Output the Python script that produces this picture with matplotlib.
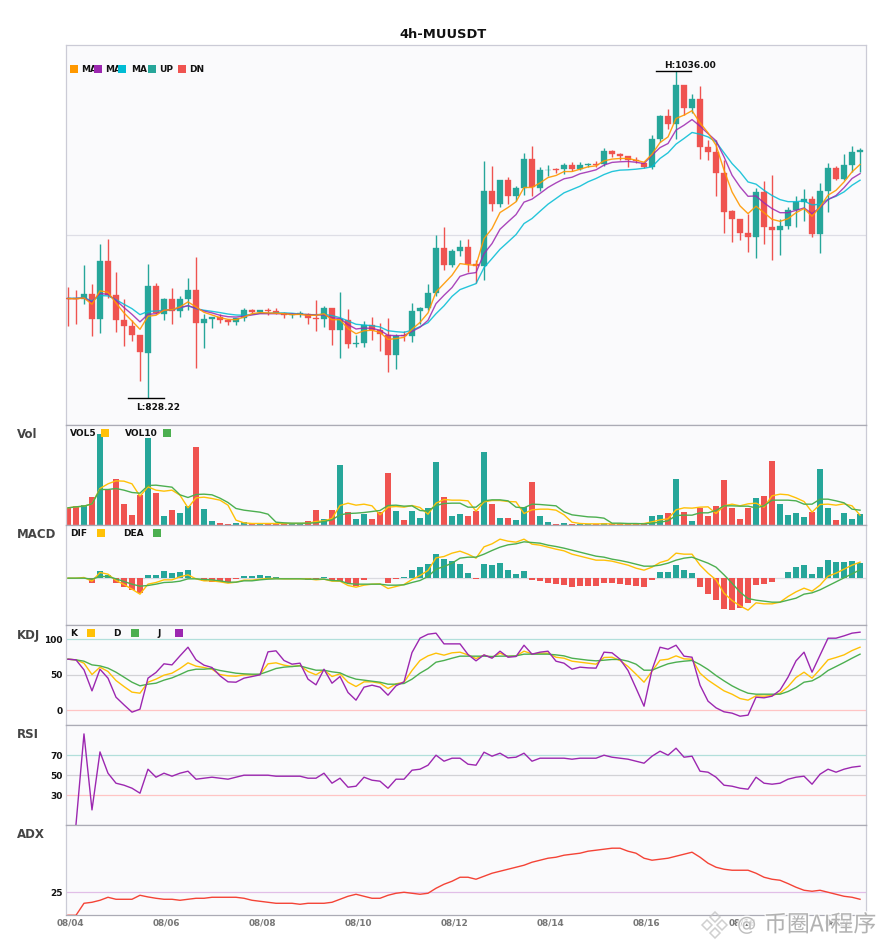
import numpy as np
import matplotlib
matplotlib.use("Agg")
import matplotlib.pyplot as plt
import matplotlib.patheffects as pe
from matplotlib.lines import Line2D
from matplotlib.patches import Rectangle

open_prices = [892.2, 891.8, 891.2, 894.3, 878.4, 915.3, 893.7, 877.8, 874.0, 868.3,
               856.9, 899.4, 881.6, 891.2, 883.5, 891.2, 896.9, 875.9, 878.4, 879.7,
               877.8, 876.5, 879.1, 884.2, 882.9, 884.2, 883.5, 882.3, 881.2, 881.6,
               882.0, 879.1, 878.4, 885.4, 871.5, 877.8, 862.8, 863.2, 874.6, 871.5,
               868.3, 855.6, 868.5, 867.6, 883.5, 885.4, 895.0, 923.5, 912.7, 921.6,
               924.2, 913.4, 912.1, 959.7, 951.5, 966.7, 956.6, 961.6, 980.1, 961.6,
               973.1, 973.9, 973.7, 976.3, 973.7, 976.5, 976.9, 976.9, 985.2, 983.3,
               982.0, 979.4, 977.7, 974.9, 992.7, 1007.4, 1002.3, 1027.1, 1012.4, 1018.2,
               987.7, 984.5, 971.1, 947.0, 941.9, 933.0, 930.5, 959.1, 936.8, 934.9,
               937.5, 947.6, 952.7, 954.6, 932.4, 959.7, 974.3, 967.3, 976.2, 984.5]
high_prices = [899.0, 897.3, 912.8, 900.7, 926.5, 929.3, 908.3, 891.6, 877.8, 868.3,
               913.4, 901.3, 891.8, 898.1, 893.1, 904.5, 917.8, 881.6, 879.9, 882.0,
               878.9, 879.5, 885.4, 884.8, 884.6, 885.4, 885.4, 882.9, 882.5, 883.5,
               882.3, 890.5, 886.7, 885.4, 895.6, 884.8, 868.3, 877.2, 879.7, 875.9,
               879.1, 868.9, 870.8, 888.6, 886.1, 900.7, 931.8, 936.9, 922.9, 928.6,
               929.2, 915.9, 978.8, 975.6, 966.7, 968.6, 962.9, 983.9, 988.3, 975.0,
               976.3, 974.4, 977.5, 978.2, 978.2, 977.5, 978.8, 987.1, 985.8, 983.9,
               982.0, 981.3, 978.3, 995.3, 1008.0, 1012.2, 1036.0, 1027.1, 1021.3, 1026.4,
               992.1, 992.1, 979.4, 947.6, 941.9, 945.5, 961.6, 965.9, 969.9, 941.9,
               949.5, 956.5, 961.0, 956.5, 964.8, 977.5, 975.6, 983.2, 988.3, 987.0]
low_prices = [874.0, 875.3, 888.0, 867.6, 869.8, 891.8, 870.2, 861.3, 864.5, 839.1,
              828.22, 882.0, 877.8, 875.3, 879.7, 884.2, 847.3, 860.0, 872.7, 875.9,
              874.6, 874.6, 877.4, 882.5, 882.5, 881.2, 881.6, 879.1, 879.1, 879.7,
              875.3, 870.8, 873.4, 861.9, 853.7, 860.0, 860.7, 860.7, 865.1, 858.1,
              844.8, 846.7, 864.5, 863.8, 875.7, 884.2, 893.0, 909.5, 911.4, 918.4,
              908.3, 901.3, 903.2, 947.0, 949.6, 951.5, 953.4, 957.2, 956.6, 959.7,
              969.3, 971.2, 970.5, 972.4, 973.1, 975.0, 975.0, 975.6, 981.3, 979.4,
              975.0, 977.5, 974.7, 973.9, 990.8, 999.1, 992.7, 1008.0, 1009.1, 980.0,
              979.4, 956.5, 933.0, 927.3, 928.6, 921.0, 917.1, 926.0, 915.9, 919.0,
              935.6, 936.8, 940.6, 930.5, 920.3, 946.4, 966.7, 966.7, 971.8, 971.8]
close_prices = [891.6, 891.2, 894.3, 878.4, 915.3, 893.7, 877.8, 874.0, 868.3, 857.5,
                899.4, 882.3, 891.2, 883.5, 891.2, 896.9, 875.9, 878.4, 879.7, 877.8,
                876.5, 879.1, 884.2, 882.9, 884.2, 883.5, 882.3, 881.2, 882.0, 882.3,
                879.1, 878.7, 885.4, 871.5, 878.7, 862.6, 863.2, 874.6, 871.5, 868.9,
                855.6, 867.6, 867.6, 883.5, 885.4, 895.0, 923.5, 912.7, 921.6, 924.2,
                913.4, 912.5, 959.7, 951.5, 966.7, 956.6, 961.6, 980.1, 962.3, 973.1,
                973.5, 973.3, 976.3, 973.7, 976.3, 976.9, 976.5, 985.2, 983.3, 982.0,
                979.4, 978.8, 974.9, 992.7, 1007.4, 1002.3, 1027.1, 1012.4, 1018.2, 987.7,
                984.5, 971.1, 946.4, 941.9, 933.0, 930.5, 959.1, 936.8, 934.9, 937.5,
                947.6, 952.7, 954.6, 932.4, 959.7, 974.3, 967.3, 976.2, 984.5, 985.8]

ma_fast = [891.6, 891.4, 892.0, 888.0, 896.5, 895.6, 888.8, 882.5, 877.4, 872.1,
           880.4, 881.0, 884.2, 884.6, 886.3, 889.5, 886.3, 882.9, 881.2, 879.5,
           878.4, 878.2, 879.9, 882.0, 882.7,
           882.5, 882.3, 882.0, 881.4, 881.6, 881.0, 881.0, 882.0, 878.2, 878.2,
           872.5, 869.3, 871.2, 871.5, 870.2, 865.7, 866.2, 867.0, 872.1, 876.5,
           882.5, 895.8, 901.1, 906.4,
           913.8, 913.1, 912.7, 929.7, 936.0, 946.2, 949.4, 953.0, 962.1, 962.1,
           965.0, 968.4, 969.7, 972.2, 972.2, 973.7, 975.2, 975.8, 979.0, 980.1,
           980.5, 980.5,
           979.4, 978.1, 983.2, 990.6, 994.2, 1005.9, 1008.0, 1010.8, 1003.1, 996.8,
           988.9, 973.1, 959.3, 950.4, 945.5, 950.2, 946.1, 941.9, 940.6, 942.3,
           946.1, 948.7, 943.8, 949.8, 957.2, 960.3, 965.6, 972.0, 976.7]
ma_mid = [891.6, 891.6, 892.0, 889.5, 894.8, 894.3, 890.5, 885.9, 881.6, 876.8,
          881.6, 882.0, 884.2, 884.6, 885.9, 887.1, 885.4, 883.7, 882.5, 881.0,
          880.1, 879.9, 880.4, 881.2, 882.0,
          882.0, 882.0, 882.0, 881.8, 881.6, 881.4, 881.2, 881.2, 879.5, 878.9,
          875.1, 872.3, 872.9, 872.7, 871.5, 868.3, 868.1, 868.1, 870.8, 873.4,
          877.8, 888.4, 893.7, 898.6,
          905.7, 907.4, 908.1, 920.1, 926.5, 935.6, 940.3, 944.9, 952.8, 954.7,
          958.3, 962.1, 965.0, 967.6, 968.6, 970.8, 972.0, 973.3, 976.3, 978.0,
          978.4, 978.6,
          978.1, 977.3, 982.6, 987.4, 990.0, 998.5, 1001.6, 1005.2, 1001.0, 996.3,
          991.7, 981.5, 969.9, 962.5, 956.5, 956.7, 952.3, 948.7, 946.1, 946.1,
          947.6, 949.1, 945.5, 949.3, 954.4, 957.0, 962.0, 967.8, 970.9]
ma_slow = [891.8, 891.8, 892.2, 890.1, 893.5, 893.3, 890.9, 888.0, 885.2, 881.4,
           883.5, 883.7, 884.2, 884.6, 885.7, 887.1, 885.2, 884.2, 883.5, 882.7,
           881.8, 881.2, 881.0, 881.6, 882.3,
           882.3, 882.5, 882.5, 882.3, 881.8, 881.4, 881.4, 881.6, 880.8, 879.5,
           877.4, 875.3, 874.8, 874.4, 873.6, 871.2, 870.6, 870.2, 871.5, 873.8,
           876.3, 882.0, 887.0, 893.0,
           897.3, 899.2, 901.1, 911.2, 917.0, 922.9, 927.5, 932.2, 939.2, 942.4,
           947.0, 951.5, 955.1, 958.7, 960.8, 962.9, 965.7, 967.8, 970.3, 972.2,
           973.1, 973.3,
           973.7, 974.3, 975.2, 980.5, 984.1, 989.6, 993.2, 997.0, 995.9, 994.2,
           991.0, 984.1, 977.3, 972.0, 965.6, 964.2, 960.3, 957.0, 954.4, 953.1,
           953.1, 953.6, 951.0, 951.5, 954.6, 956.5, 959.3, 963.5, 966.7]

volume = [50, 56, 58, 83, 272, 105, 137, 62, 29, 89,
          260, 96, 25, 44, 35, 56, 233, 47, 11, 5,
          2, 5, 7, 3, 2, 2, 2, 2, 2, 2,
          11, 44, 17, 44, 179, 38, 17, 32, 17, 38,
          155, 41, 14, 41, 20, 50, 188, 83, 26, 32,
          26, 41, 218, 62, 20, 20, 14, 53, 128, 26,
          8, 2, 5, 2, 2, 1, 1, 5, 1, 1,
          1, 1, 2, 26, 29, 35, 137, 38, 11, 50,
          26, 56, 134, 50, 17, 50, 80, 86, 191, 62,
          29, 35, 23, 38, 167, 50, 14, 35, 17, 32]
vol5 = [50, 53, 55, 62, 108, 122, 131, 130, 122, 85,
        113, 103, 100, 103, 88, 50, 80, 82, 78, 73,
        58, 13, 5, 3, 3, 3, 3, 3, 3, 3,
        4, 9, 11, 18, 57, 64, 58, 61, 56, 29,
        52, 54, 52, 57, 51, 31, 64, 75, 73, 73,
        71, 40, 68, 72, 72, 69, 68, 33, 44, 46,
        46, 43, 29, 7, 3, 2, 2, 2, 2, 2,
        2, 2, 3, 8, 14, 17, 44, 50, 49, 52,
        53, 33, 56, 61, 56, 62, 64, 52, 86, 91,
        89, 80, 69, 37, 60, 61, 58, 62, 56, 28]
vol10 = [50, 53, 55, 62, 105, 105, 108, 103, 96, 94,
         117, 118, 115, 112, 89, 81, 90, 91, 89, 79,
         66, 48, 43, 40, 37, 31, 7, 5, 4, 4,
         4, 5, 9, 14, 29, 33, 34, 36, 39, 42,
         57, 58, 55, 56, 42, 40, 57, 63, 64, 64,
         52, 52, 71, 74, 74, 71, 52, 50, 61, 60,
         58, 56, 38, 29, 26, 23, 22, 19, 4, 4,
         3, 3, 2, 4, 7, 11, 27, 28, 28, 35,
         35, 42, 56, 56, 55, 55, 50, 56, 73, 73,
         73, 71, 61, 61, 76, 76, 71, 65, 46, 43]

macd_hist = [0, 0, 0.2, -1.4, 2.2, 1.0, -1.4, -2.6, -3.4, -4.5,
             1.0, 1.0, 2.2, 1.6, 2.0, 2.6, 0, -0.9, -1.0, -1.1,
             -1.0, -0.3, 0.7, 0.7, 1.0, 0.7, 0.4, 0.1, 0, 0,
             -0.4, -0.5, 0.4, -0.7, -0.8, -1.5, -2.2, -0.5, 0, 0,
             -1.4, -0.2, 0.4, 2.5, 3.4, 4.3, 7.3, 5.8, 5.2, 4.3,
             1.6, -0.2, 4.3, 4.0, 4.6, 2.5, 1.3, 2.2, -0.5, -0.8,
             -1.4, -1.7, -2.0, -2.6, -2.3, -2.3, -2.3, -1.4, -1.4, -1.7,
             -2.0, -2.3, -2.6, -0.5, 1.9, 1.9, 4.0, 2.5, 1.6, -2.6,
             -4.7, -6.5, -9.2, -9.5, -8.9, -7.4, -2.0, -1.7, -1.1, 0,
             1.9, 3.4, 4.0, 1.3, 3.4, 5.5, 4.9, 4.9, 5.2, 4.6]
macd_dif = [0, 0, 0.2, -0.9, 1.7, 1.2, -0.7, -1.9, -3.3, -4.8,
            -1.8, -1.3, -0.5, -0.5, 0.4, 1.0, -0.2, -0.8, -0.8, -1.1,
            -1.5, -1.2, -0.6, -0.6, -0.3, -0.1, -0.1, -0.2, -0.2, -0.2,
            -0.2, -0.5, -0.3, -0.9, -0.9, -2.2, -2.7, -2.1, -1.8, -1.7,
            -3.1, -2.5, -1.9, -0.4, 0.8, 2.3, 6.1,
            6.5, 7.5, 8.1, 7.2, 6.0, 9.4, 10.3, 11.7, 11.1, 10.8,
            11.7, 10.2, 9.9, 9.3, 8.7, 8.2, 7.2, 6.6, 6.0, 5.4,
            5.4, 5.1, 4.5, 3.9, 3.0, 2.4, 3.3, 4.7, 5.4, 7.5,
            7.2, 7.2, 3.9, 1.5, -0.5, -4.5, -6.7, -8.3, -9.6, -7.4,
            -7.7, -7.7, -7.2, -5.5, -4.1, -3.0, -3.9, -2.1, 0.6, 1.5,
            2.7, 3.9, 4.8]
macd_dea = [0, 0, 0, -0.3, 0.5, 0.5, -0.2, -1.0, -1.8, -2.4,
            -2.2, -1.8, -1.3, -1.2, -0.9, -0.2, -0.2, -0.4, -0.5, -0.8,
            -1.2, -1.2, -0.8, -0.8, -0.5, -0.3, -0.2, -0.2, -0.2, -0.2,
            -0.3, -0.3, -0.3, -0.7, -0.8, -1.6, -1.8, -1.8, -1.8, -1.8,
            -2.1, -2.1, -2.0, -1.3, -0.7, 0.5, 2.7,
            3.5, 4.5, 6.0, 6.3, 6.3, 7.2, 8.3, 9.3, 10.0, 10.3,
            10.9, 10.7, 10.5, 9.9, 9.5, 9.0, 8.4, 7.8, 7.2, 6.6,
            6.3, 5.7, 5.3, 4.8, 4.2, 3.6, 3.6, 3.9, 4.5, 5.4,
            6.0, 6.3, 5.4, 4.5, 3.3, 1.0, -1.5, -4.2, -6.1, -6.6,
            -6.9, -7.2, -7.2, -6.6, -6.0, -4.8, -4.4, -3.5, -2.3, -1.1,
            0.1, 1.3, 2.5]

kdj_k = [71.8, 70.9, 66.2, 50.2, 60.6, 54.5, 41.8, 33.3, 25.4, 23.9,
         39.4, 43.7, 49.3, 52.1, 58.7, 66.7, 62.0, 60.1, 57.7, 50.2,
         48.4, 47.9, 49.8, 49.8, 50.2, 65.3, 66.7, 63.4, 61.5, 62.9,
         54.5, 49.8, 56.8, 47.4, 51.2, 39.4, 33.3, 39.9, 39.9, 38.0,
         30.5, 37.1, 39.4, 55.9, 70.0, 76.5, 80.3,
         77.5, 80.8, 81.7, 77.9, 72.8, 77.5, 74.2, 80.3, 75.6, 76.1,
         83.1, 79.3, 80.3, 80.3, 74.6, 73.2, 69.0, 67.6, 66.2, 64.8,
         74.2, 74.6, 70.0, 61.5, 50.7, 39.4, 54.9, 70.4, 71.8, 76.5,
         72.3, 71.8, 52.1, 42.3, 34.7, 27.2, 22.5, 16.4, 14.1, 20.2,
         19.7, 20.7, 23.9, 33.3, 46.0, 53.5, 45.1, 57.7, 70.9, 74.2,
         77.9, 84.0, 88.7]
kdj_d = [71.8, 70.9, 69.0, 63.8, 62.4, 59.2, 53.5, 46.5, 39.4, 34.3,
         36.6, 38.0, 42.3, 45.5, 50.2, 55.4, 57.7, 57.7, 58.7, 55.9,
         54.0, 52.1, 51.2, 50.7, 50.7, 54.5, 58.7, 60.6, 61.5, 62.4,
         59.2, 56.3, 56.3, 54.0, 52.6, 47.4, 43.7, 42.3, 40.8, 39.4,
         36.6, 36.6, 37.6, 43.7, 52.1, 58.7, 67.6,
         70.0, 73.2, 76.1, 76.1, 76.1, 76.1, 75.6, 76.1, 76.1, 76.5,
         78.9, 78.9, 78.9, 78.9, 77.9, 76.5, 73.2, 71.8, 70.4, 69.5,
         70.4, 71.4, 71.4, 69.0, 64.8, 56.3, 56.3, 61.0, 65.3, 67.6,
         69.0, 70.0, 64.3, 57.3, 48.8, 41.3, 34.3, 28.6, 23.9, 22.5,
         22.5, 22.5, 22.5, 26.3, 31.9, 39.4, 41.3, 47.4, 55.9, 61.5,
         67.2, 73.2, 78.9]
kdj_j = [71.8, 70.9, 56.8, 27.2, 57.7, 45.1, 18.3, 7.5, -2.8, 1.4,
         45.1, 53.1, 65.3, 63.8, 76.5, 88.7, 70.9, 63.4, 60.1, 48.4,
         39.9, 39.4, 45.1, 47.4, 49.8, 82.2, 83.6, 70.0, 64.8, 66.2,
         43.7, 35.7, 57.7, 38.0, 47.4, 24.9, 14.1, 32.4, 35.2, 32.4,
         21.1, 34.3, 39.9, 81.2, 101.4, 107.0, 108.5,
         93.4, 93.4, 93.4, 78.4, 69.5, 77.9, 73.2, 83.1, 74.6, 75.6,
         91.5, 78.9, 81.7, 83.1, 69.0, 66.2, 57.7, 60.6, 59.6, 59.2,
         81.7, 80.8, 71.8, 55.9, 31.0, 5.6, 56.8, 88.7, 85.9, 91.5,
         76.1, 74.6, 35.2, 12.7, 3.3, -2.3, -4.2, -8.5, -7.0, 18.3,
         17.4, 19.7, 28.2, 46.5, 69.5, 81.7, 53.5, 77.5, 101.4, 101.4,
         104.7, 108.5, 109.9]

rsi = [np.nan, 0.7, 91.3, 15.3, 73.3, 52, 42, 40, 37, 32,
       56, 48, 52, 49, 52, 54, 46, 47, 48, 47,
       46, 48, 50, 50, 50, 50, 49, 49, 49, 49,
       47, 47, 52, 42, 47, 38, 39, 48, 45, 44,
       37, 46, 46, 55, 56, 60, 70, 64, 67, 67,
       61, 60, 73, 69, 72, 67.3, 68, 72, 64, 67,
       67, 67, 67, 66, 67, 67, 67, 70, 68, 67,
       66, 64, 62, 69, 74, 70, 77, 68, 69, 54,
       53, 48, 40, 39, 37, 36, 48, 42, 41, 42,
       46, 48, 49, 41, 51, 56, 53, 56, 58, 59]

adx = [14.65, 14.65, 20.05, 20.5, 21.4, 22.75, 21.85, 21.85, 21.85, 23.65,
       22.9, 22.3, 21.85, 21.85, 21.4, 21.85, 22.3, 22.3, 22.75, 22.75,
       22.75, 22.75, 22.3, 21.4, 20.95, 20.5, 20.05, 20.05, 20.05, 19.6,
       20.05, 20.05, 20.05, 20.5, 21.85, 23.2, 24.1, 23.2, 22.3, 22.3,
       23.65, 24.55, 25.0, 24.55, 24.1, 24.55, 26.8, 28.6, 29.95, 31.75,
       31.75, 30.85, 32.2, 33.55, 34.45, 35.35, 36.25, 37.15, 38.5, 39.4,
       40.3, 40.75, 41.65, 42.1, 42.55, 43.45, 43.9, 44.35, 44.8, 44.8,
       43.45, 42.55, 40.3, 39.4, 39.85, 40.3, 41.2, 42.1, 43.0, 40.75,
       38.05, 36.25, 35.35, 34.9, 34.9, 34.9, 33.55, 31.75, 30.85, 30.4,
       28.9, 27.25, 25.9, 25.45, 25.9, 25.0, 24.1, 23.2, 22.75, 21.85]

date_labels = ["08/04", "08/06", "08/08", "08/10", "08/12", "08/14", "08/16", "08/18", "08/20"]
date_ticks = [0, 12, 24, 36, 48, 60, 72, 84, 96]

# - - - - style - - -
UP = "#26A69A"
DOWN = "#EF5350"
ORANGE = "#FF9800"
PURPLE = "#9C27B0"
CYAN = "#00BCD4"
YELLOW = "#FFC107"
GREEN = "#4CAF50"
BG = "#FAFAFC"
SEP = "#ABABB5"
SIDE = "#CBCBD6"
W, H = 885, 950
LEFT, RIGHT = 65.5, 865.8


def make_axes(fig, top, bottom):
    # positions are given in picture pixels, y from the top
    ax = fig.add_axes([LEFT / W, 1 - bottom / H, (RIGHT - LEFT) / W, (bottom - top) / H])
    ax.set_facecolor(BG)
    ax.set_xlim(-0.31, 99.72)
    ax.set_xticks([])
    ax.tick_params(axis="y", length=0, pad=2, labelsize=6.5, labelcolor="#111111")
    for side in ("left", "right"):
        ax.spines[side].set_color(SIDE)
        ax.spines[side].set_linewidth(0.9)
    for side in ("top", "bottom"):
        ax.spines[side].set_color(SEP)
        ax.spines[side].set_linewidth(0.9)
    return ax


def set_levels(ax, levels):
    ax.set_yticks(levels)
    ax.set_yticklabels([str(v) for v in levels], fontweight="bold")


def px_text(fig, x, y, text, size=6.5, color="#111111", ha="left"):
    fig.text(x / W, 1 - y / H, text, fontsize=size, color=color, fontweight="bold",
             va="center", ha=ha)


def px_square(fig, x, y, color):
    fig.add_artist(Rectangle((x / W, 1 - (y + 4) / H), 8 / W, 8 / H, transform=fig.transFigure,
                             facecolor=color, edgecolor="none", zorder=5))


def draw_price(ax):
    x = np.arange(len(open_prices))
    o = np.array(open_prices)
    c = np.array(close_prices)
    colors = [UP if c[i] >= o[i] else DOWN for i in x]
    ax.spines["top"].set_color(SIDE)
    ax.axhline(932, color="#DEDEE6", lw=0.9, zorder=1)
    ax.vlines(x, low_prices, high_prices, colors=colors, lw=1.0, zorder=2)
    ax.bar(x, np.abs(c - o), bottom=np.minimum(o, c), width=0.7, color=colors,
           edgecolor=colors, linewidth=0.25, zorder=3)
    ax.plot(x, ma_slow, color=CYAN, lw=1.0, alpha=0.85, zorder=4)
    ax.plot(x, ma_mid, color=PURPLE, lw=1.0, alpha=0.85, zorder=5)
    ax.plot(x, ma_fast, color=ORANGE, lw=1.0, alpha=0.9, zorder=6)
    ax.set_ylim(811.7, 1052.5)
    ax.set_yticks([])

    # high and low marks
    ihigh = int(np.argmax(high_prices))
    ilow = int(np.argmin(low_prices))
    ax.plot([ihigh - 2.5, ihigh + 1.9], [high_prices[ihigh]] * 2, color="black", lw=1.0, zorder=7)
    ax.plot([ilow - 2.5, ilow + 2.0], [low_prices[ilow]] * 2, color="black", lw=1.0, zorder=7)
    ax.text(ihigh + 1.75, high_prices[ihigh] + 3.8, "H:%.2f" % high_prices[ihigh], fontsize=6.5,
            fontweight="bold", ha="center", va="center", color="#111111")
    ax.text(ilow + 1.25, low_prices[ilow] - 5.6, "L:%.2f" % low_prices[ilow], fontsize=6.5,
            fontweight="bold", ha="center", va="center", color="#111111")


def draw_volume(ax):
    x = np.arange(len(volume))
    colors = [UP if close_prices[i] >= open_prices[i] else DOWN for i in x]
    ax.bar(x, volume, width=0.75, color=colors, linewidth=0, zorder=2)
    ax.plot(x, vol5, color=YELLOW, lw=1.0, zorder=3)
    ax.plot(x, vol10, color=GREEN, lw=1.0, zorder=4)
    ax.set_ylim(0, 300)
    ax.set_yticks([])


def draw_macd(ax):
    x = np.arange(len(macd_hist))
    colors = [UP if v >= 0 else DOWN for v in macd_hist]
    ax.axhline(0, color="#DADAE0", lw=0.9, zorder=1)
    ax.bar(x, macd_hist, width=0.75, color=colors, linewidth=0, zorder=2)
    ax.plot(x, macd_dif, color=YELLOW, lw=1.0, zorder=3)
    ax.plot(x, macd_dea, color=GREEN, lw=1.0, zorder=4)
    ax.set_ylim(-13.9, 16.1)
    ax.set_yticks([])


def draw_kdj(ax):
    x = np.arange(len(kdj_k))
    ax.axhline(100, color="#B2DFDB", lw=0.9, zorder=1)
    ax.axhline(50, color="#D2D2D6", lw=0.9, zorder=1)
    ax.axhline(0, color="#FFC4C4", lw=0.9, zorder=1)
    ax.plot(x, kdj_k, color=YELLOW, lw=1.0, zorder=3)
    ax.plot(x, kdj_d, color=GREEN, lw=1.0, zorder=4)
    ax.plot(x, kdj_j, color=PURPLE, lw=1.0, zorder=5)
    ax.set_ylim(-20.2, 120.7)
    set_levels(ax, [0, 50, 100])


def draw_rsi(ax):
    x = np.arange(len(rsi))
    ax.axhline(70, color="#B2DFDB", lw=0.9, zorder=1)
    ax.axhline(50, color="#D2D2D6", lw=0.9, zorder=1)
    ax.axhline(30, color="#FFC4C4", lw=0.9, zorder=1)
    ax.plot(x, rsi, color=PURPLE, lw=1.0, zorder=3)
    ax.set_ylim(0.7, 100.7)
    set_levels(ax, [30, 50, 70])


def draw_adx(ax):
    x = np.arange(len(adx))
    ax.axhline(25, color="#E1BEE7", lw=0.9, zorder=1)
    ax.plot(x, adx, color="#F44336", lw=1.0, zorder=3)
    ax.set_ylim(14.65, 55.45)
    set_levels(ax, [25])
    ax.set_xticks(np.array(date_ticks) + 0.3)
    ax.set_xticklabels(date_labels, fontsize=6.4, fontweight="bold", color="#777777")
    ax.tick_params(axis="x", length=0, pad=2)


def draw_legends(fig):
    for x0, col in [(70, ORANGE), (94, PURPLE), (118, CYAN), (148, UP), (178, DOWN)]:
        px_square(fig, x0, 69, col)
    for tx, name in [(81, "MA"), (105, "MA"), (131, "MA"), (159, "UP"), (189, "DN")]:
        px_text(fig, tx, 69, name)

    px_text(fig, 70, 434, "VOL5")
    px_square(fig, 101, 433, YELLOW)
    px_text(fig, 125, 434, "VOL10")
    px_square(fig, 163, 433, GREEN)

    px_text(fig, 70, 534, "DIF")
    px_square(fig, 97, 533, YELLOW)
    px_text(fig, 123, 534, "DEA")
    px_square(fig, 153, 533, GREEN)

    px_text(fig, 70, 634, "K")
    px_square(fig, 87, 633, YELLOW)
    px_text(fig, 113, 634, "D")
    px_square(fig, 131, 633, GREEN)
    px_text(fig, 157, 634, "J")
    px_square(fig, 175, 633, PURPLE)

    for y, name in [(435, "Vol"), (535, "MACD"), (635, "KDJ"), (735, "RSI"), (835, "ADX")]:
        px_text(fig, 17, y, name, size=8.5, color="#444444")


def draw_watermark(fig):
    halo = [pe.withStroke(linewidth=2.0, foreground="white", alpha=0.8)]
    for px, py in [(707, 925), (722, 925), (714.5, 917), (714.5, 933)]:
        fig.add_artist(Line2D([px / W], [1 - py / H], marker="D", markersize=5.0, markerfacecolor="none",
                              markeredgecolor="#C4C4C4", markeredgewidth=1.1, transform=fig.transFigure,
                              alpha=0.8, zorder=8))
    fig.text(737 / W, 1 - 925 / H, "@", fontsize=14, color="#B5B5B5", alpha=0.85, va="center",
             zorder=8, path_effects=halo)
    fig.text(764 / W, 1 - 925 / H, "币圈AI程序", fontsize=16.5, color="#A8A8A8", alpha=0.85, va="center",
             family=["Noto Sans CJK SC", "DejaVu Sans"], zorder=8, path_effects=halo)


def main():
    fig = plt.figure(figsize=(W / 100, H / 100), dpi=100, facecolor="white")
    draw_price(make_axes(fig, 45, 424.5))
    draw_volume(make_axes(fig, 424.5, 524.5))
    draw_macd(make_axes(fig, 524.5, 624.5))
    draw_kdj(make_axes(fig, 624.5, 724.5))
    draw_rsi(make_axes(fig, 724.5, 824.5))
    draw_adx(make_axes(fig, 824.5, 915.3))
    px_text(fig, 443.5, 34, "4h-MUUSDT", size=9.4, ha="center")
    draw_legends(fig)
    draw_watermark(fig)
    fig.savefig("out.png", dpi=100)


if __name__ == '__main__':
    main()
